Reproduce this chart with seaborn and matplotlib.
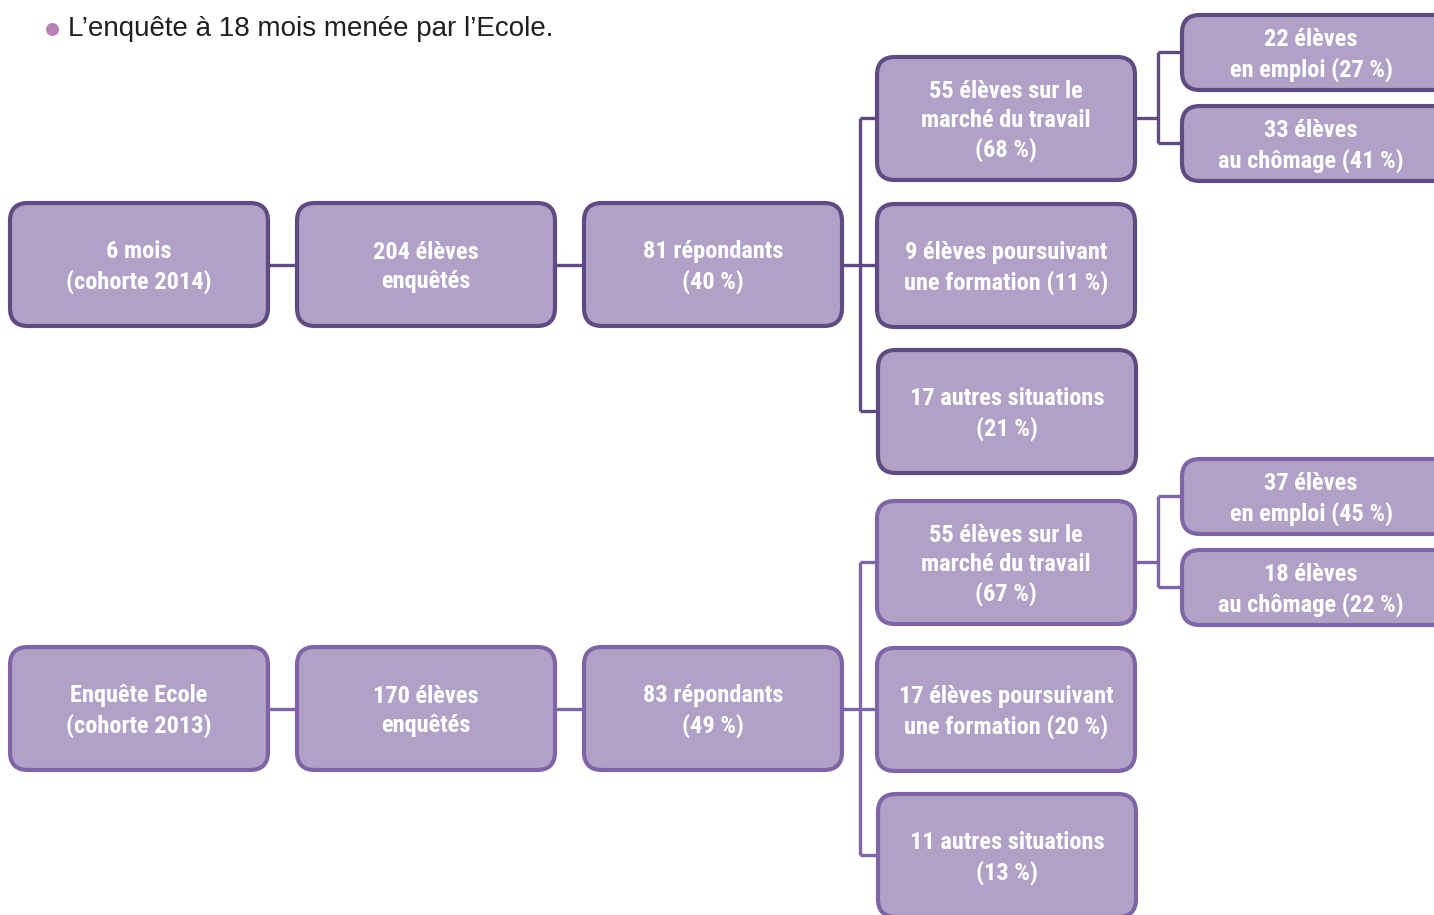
import matplotlib
matplotlib.use("Agg")
import matplotlib.pyplot as plt
import seaborn as sns
from matplotlib.patches import FancyBboxPatch
from matplotlib import font_manager

# data for the two cohorts (top = 2014 at 6 months, bottom = 2013 school survey)
cohorts = ["6 mois\n(cohorte 2014)", "Enquête Ecole\n(cohorte 2013)"]
surveyed = [204, 170]
respondents = [81, 83]
respondents_pct = [40, 49]
market = [55, 55]
market_pct = [68, 67]
training = [9, 17]
training_pct = [11, 20]
other = [17, 11]
other_pct = [21, 13]
employed = [22, 37]
employed_pct = [27, 45]
unemployed = [33, 18]
unemployed_pct = [41, 22]

sns.set_theme(style="white")
plt.rcParams["font.family"] = ["Liberation Sans", "DejaVu Sans"]

# pick a bold condensed face for the boxes if one is around
candidates = ["Roboto Condensed", "Archivo Narrow", "PT Sans Narrow", "Liberation Sans Narrow",
              "Fira Sans Condensed", "Barlow Condensed", "IBM Plex Sans Condensed",
              "Asap Condensed", "Encode Sans Condensed", "Open Sans Condensed"]
box_prop = None
for cand in candidates:
    hits = [f for f in font_manager.fontManager.ttflist
            if f.name == cand and f.weight in (700, "bold") and "[" not in f.fname
            and "Italic" not in f.fname]
    if hits:
        box_prop = font_manager.FontProperties(fname=hits[0].fname, size=17.6)
        break
if box_prop is None:
    box_prop = font_manager.FontProperties(family="DejaVu Sans", weight="bold", size=13.5)

fill = "#b1a1c7"
edges = ["#5f4b82", "#7f65a5"]

fig = plt.figure(figsize=(14.34, 9.15), dpi=100)
ax = fig.add_axes([0, 0, 1, 1])
ax.set_xlim(0, 1434)
ax.set_ylim(915, 0)
ax.axis("off")


def box(x0, y0, w, h, text, ec, cx=None):
    p = FancyBboxPatch((x0, y0), w, h, boxstyle="round,pad=0,rounding_size=18",
                       fc=fill, ec=ec, lw=3.0, zorder=3)
    ax.add_patch(p)
    if cx is None:
        cx = x0 + w / 2
    ax.text(cx, y0 + h / 2 + 2.5, text, ha="center", va="center", color="white",
            fontproperties=box_prop, linespacing=1.33, zorder=4)


def line(xs, ys, ec):
    ax.plot(xs, ys, color=ec, lw=2.4, zorder=2, solid_capstyle="butt")


W, H = 258, 123
for i in range(2):
    off = 444 * i
    ec = edges[i]
    yc = 203 + off
    box(10, yc, W, H, cohorts[i], ec)
    box(297, yc, W, H, f"{surveyed[i]} élèves\nenquêtés", ec)
    box(584, yc, W, H, f"{respondents[i]} répondants\n({respondents_pct[i]} %)", ec)
    box(877, 57 + off, W, H, f"{market[i]} élèves sur le\nmarché du travail\n({market_pct[i]} %)", ec)
    box(877, 204 + off, W, H, f"{training[i]} élèves poursuivant\nune formation ({training_pct[i]} %)", ec)
    box(878, 350 + off, W, H, f"{other[i]} autres situations\n({other_pct[i]} %)", ec)
    box(1182, 15 + off, 270, 75, f"{employed[i]} élèves\nen emploi ({employed_pct[i]} %)", ec, cx=1311)
    box(1182, 106 + off, 270, 75, f"{unemployed[i]} élèves\nau chômage ({unemployed_pct[i]} %)", ec, cx=1311)

    mid = yc + H / 2
    line([268, 297], [mid, mid], ec)
    line([555, 584], [mid, mid], ec)
    line([842, 860], [mid, mid], ec)
    line([860, 860], [118 + off, 411 + off], ec)
    for yy in (118, 265, 411):
        line([860, 878], [yy + off, yy + off], ec)
    line([1135, 1158], [118 + off, 118 + off], ec)
    line([1158, 1158], [52 + off, 143 + off], ec)
    line([1158, 1183], [52 + off, 52 + off], ec)
    line([1158, 1183], [143 + off, 143 + off], ec)

# bullet line above the chart
ax.scatter([52], [29], s=70, color="#b784b5", zorder=5)
ax.text(68, 29, "L’enquête à 18 mois menée par l’Ecole.", ha="left", va="center",
        fontsize=20, color="#231f20")

fig.savefig("out.png", dpi=100)
